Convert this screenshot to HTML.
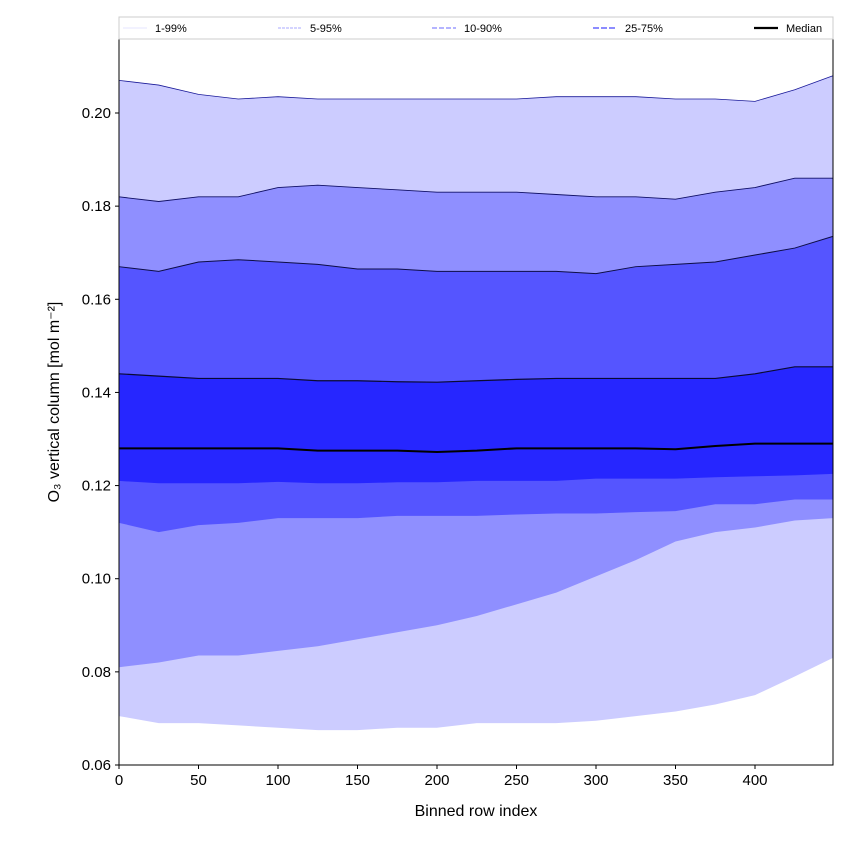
<!DOCTYPE html>
<html><head><meta charset="utf-8"><style>
body{margin:0;background:#fff;font-family:"Liberation Sans",sans-serif}
</style></head><body>
<svg id="chart" width="850" height="850" xmlns="http://www.w3.org/2000/svg"></svg>
<script>
const xs=[0,25,50,75,100,125,150,175,200,225,250,275,300,325,350,375,400,425,449];
const p99=[0.207,0.206,0.204,0.203,0.2035,0.203,0.203,0.203,0.203,0.203,0.203,0.2035,0.2035,0.2035,0.203,0.203,0.2025,0.205,0.208];
const p95=[0.182,0.181,0.182,0.182,0.184,0.1845,0.184,0.1835,0.183,0.183,0.183,0.1825,0.182,0.182,0.1815,0.183,0.184,0.186,0.186];
const p90=[0.167,0.166,0.168,0.1685,0.168,0.1675,0.1665,0.1665,0.166,0.166,0.166,0.166,0.1655,0.167,0.1675,0.168,0.1695,0.171,0.1735];
const p75=[0.144,0.1435,0.143,0.143,0.143,0.1425,0.1425,0.1423,0.1422,0.1425,0.1428,0.143,0.143,0.143,0.143,0.143,0.144,0.1455,0.1455];
const p50=[0.128,0.128,0.128,0.128,0.128,0.1275,0.1275,0.1275,0.1272,0.1275,0.128,0.128,0.128,0.128,0.1278,0.1285,0.129,0.129,0.129];
const p25=[0.121,0.1205,0.1205,0.1205,0.1208,0.1205,0.1205,0.1207,0.1207,0.121,0.121,0.121,0.1215,0.1215,0.1215,0.1218,0.122,0.1222,0.1225];
const p10=[0.112,0.110,0.1115,0.112,0.113,0.113,0.113,0.1135,0.1135,0.1135,0.1138,0.114,0.114,0.1143,0.1145,0.116,0.116,0.117,0.117];
const p5=[0.081,0.082,0.0835,0.0835,0.0845,0.0855,0.087,0.0885,0.090,0.092,0.0945,0.097,0.1005,0.104,0.108,0.110,0.111,0.1125,0.113];
const p1=[0.0705,0.069,0.069,0.0685,0.068,0.0675,0.0675,0.068,0.068,0.069,0.069,0.069,0.0695,0.0705,0.0715,0.073,0.075,0.079,0.083];
const xTicks=[0,50,100,150,200,250,300,350,400];
const yTicks=[0.06,0.08,0.10,0.12,0.14,0.16,0.18,0.20];
const L=119,R=833,T=39,B=765;
const xS=v=>L+(v-0)*(755-119)/400;
const yS=v=>765-(v-0.06)*(652/0.14);
const svg=document.getElementById('chart');
const NS='http://www.w3.org/2000/svg';
function mk(t,a,p){const e=document.createElementNS(NS,t);for(const k in a)e.setAttribute(k,a[k]);(p||svg).appendChild(e);return e;}
function band(lo,hi,fill,name){
 let d='M'+xs.map((x,i)=>xS(x)+','+yS(hi[i])).join('L');
 for(let i=xs.length-1;i>=0;i--)d+='L'+xS(xs[i])+','+yS(lo[i]);
 const e=mk('path',{d:d+'Z',fill:fill});
 
 
}
function line(arr,stroke,w,name){
 const e=mk('path',{d:'M'+xs.map((x,i)=>xS(x)+','+yS(arr[i])).join('L'),fill:'none',stroke:stroke,'stroke-width':w});
 
 
}
band(p1,p99,'#ccccff','band-1-99');
band(p5,p95,'#8f8fff','band-5-95');
band(p10,p90,'#5555ff','band-10-90');
band(p25,p75,'#2626ff','band-25-75');
line(p99,'#1a1a99',0.8,'line-p99');
line(p95,'#111166',0.9,'line-p95');
line(p90,'#0d0d44',1,'line-p90');
line(p75,'#0a0a33',1.2,'line-p75');
line(p50,'#000',2,'median-line');
const fr=mk('rect',{x:L,y:T,width:R-L,height:B-T,fill:'none',stroke:'#000','stroke-width':1});


xTicks.forEach(v=>{
 mk('line',{x1:xS(v),x2:xS(v),y1:B,y2:B+4,stroke:'#000'});
 const t=mk('text',{x:xS(v),y:B+20,'text-anchor':'middle','font-size':15});t.textContent=v;
 
 
});
yTicks.forEach(v=>{
 mk('line',{x1:L-4,x2:L,y1:yS(v),y2:yS(v),stroke:'#000'});
 const t=mk('text',{x:L-8,y:yS(v)+5,'text-anchor':'end','font-size':15});t.textContent=v.toFixed(2);
 
 
});
const xt=mk('text',{x:(L+R)/2,y:816,'text-anchor':'middle','font-size':16});xt.textContent='Binned row index';


const yt=mk('text',{x:0,y:0,'text-anchor':'middle','font-size':16,transform:'translate(59,402) rotate(-90)'});yt.textContent='O₃ vertical column [mol m⁻²]';


// legend
const lg=mk('g',{});


mk('rect',{x:119,y:17,width:714,height:22,fill:'#fff',stroke:'#ccc'},lg);
const legNames=['1-99%','5-95%','10-90%','25-75%','Median'];
const legX=[123,278,432,593,754];
const legCol=['#ddddff','#aaaaff','#8888ff','#6666ff','#000'];
const legDash=['none','3,1','5,2','6,2','none'];
const legW=[0.8,1,1.2,1.5,2.2];
legNames.forEach((n,i)=>{
 const g=mk('g',{},lg);
 
 
 mk('line',{x1:legX[i],x2:legX[i]+24,y1:28,y2:28,stroke:legCol[i],'stroke-width':legW[i],'stroke-dasharray':legDash[i]},g);
 const t=mk('text',{x:legX[i]+32,y:32,'font-size':11},g);t.textContent=n;
});
</script>
</body></html>
